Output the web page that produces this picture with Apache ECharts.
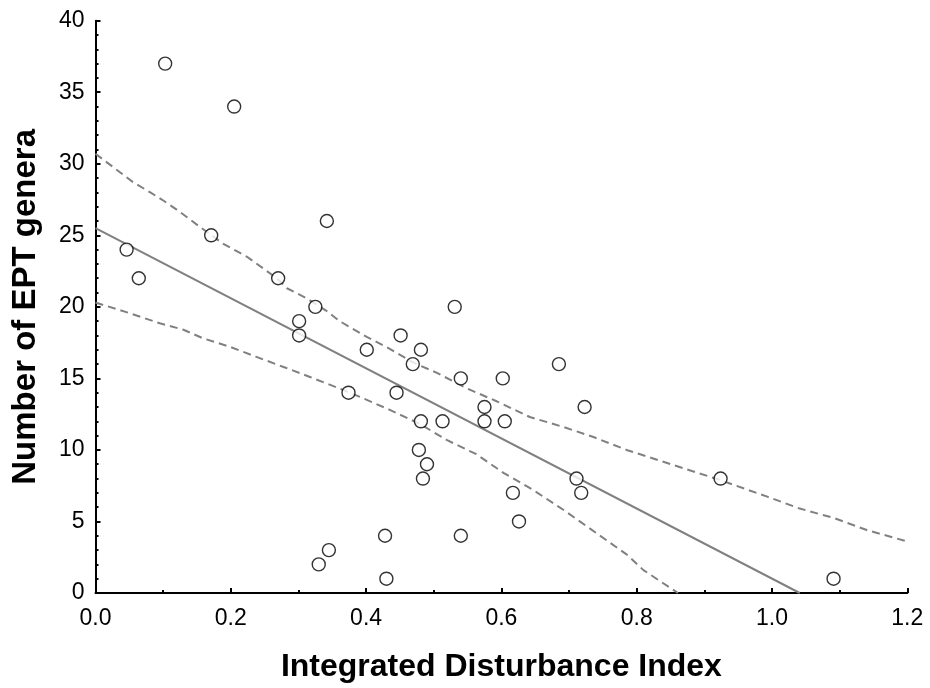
<!DOCTYPE html>
<html>
<head>
<meta charset="utf-8">
<script src="https://cdn.jsdelivr.net/npm/echarts@6/dist/echarts.min.js"></script>
<style>
  html, body { margin: 0; padding: 0; background: #fff; }
  #chart { width: 930px; height: 688px; }
</style>
</head>
<body>
<div id="chart"></div>
<script>
// observed sites: disturbance index vs EPT genera count
const idx = [0.103, 0.205, 0.046, 0.064, 0.171, 0.270, 0.342, 0.325, 0.301, 0.301,
             0.531, 0.451, 0.401, 0.481, 0.469, 0.540, 0.602, 0.685, 0.374, 0.445,
             0.575, 0.723, 0.481, 0.513, 0.575, 0.605, 0.478, 0.490, 0.484, 0.711,
             0.718, 0.617, 0.626, 0.428, 0.540, 0.345, 0.330, 0.430, 0.924, 1.091]
const ept = [37, 34, 24, 22, 25, 22, 26, 20, 19, 18,
             20, 18, 17, 17, 16, 15, 15, 16, 14, 14,
             13, 13, 12, 12, 12, 12, 10, 9, 8, 8,
             7, 7, 5, 4, 4, 3, 2, 1, 8, 1]

// fitted line, read at its two ends
const fitLine = [[0, 25.5], [1.041, 0]]

// 95% confidence band (dashed)
const upperBand = [[0, 30.7], [0.056, 28.7], [0.081, 28.0], [0.098, 27.5], [0.12, 26.8],
                   [0.154, 25.6], [0.189, 24.4], [0.224, 23.5], [0.268, 22.0], [0.283, 21.3],
                   [0.312, 20.6], [0.342, 19.7], [0.361, 19.0], [0.401, 17.9], [0.430, 17.2],
                   [0.470, 16.1], [0.504, 15.4], [0.549, 14.3], [0.593, 13.4], [0.642, 12.3],
                   [0.692, 11.6], [0.736, 10.9], [0.785, 10.0], [0.923, 7.9], [0.992, 6.75],
                   [1.041, 5.9], [1.091, 5.25], [1.14, 4.4], [1.2, 3.6]]
const lowerBand = [[0, 20.3], [0.051, 19.55], [0.095, 18.85], [0.13, 18.4], [0.159, 17.8],
                   [0.199, 17.2], [0.238, 16.5], [0.278, 15.8], [0.317, 15.1], [0.371, 14.1],
                   [0.401, 13.5], [0.435, 12.8], [0.48, 11.8], [0.519, 10.7], [0.563, 9.7],
                   [0.603, 8.4], [0.647, 7.2], [0.692, 5.8], [0.731, 4.5], [0.785, 2.7],
                   [0.81, 1.6], [0.861, 0]]

const xTicks = ['0.0', '0.2', '0.4', '0.6', '0.8', '1.0', '1.2']

const chart = echarts.init(document.getElementById('chart'))

const axisFont = { fontFamily: 'Liberation Sans, Arial, sans-serif', fontSize: 23, color: '#000' }
const dashed = { color: '#808080', width: 2, type: [8, 5] }

chart.setOption({
  animation: false,
  grid: { left: 95.5, right: 22.7, top: 20.7, bottom: 94.5 },
  xAxis: {
    type: 'value',
    min: 0, max: 1.2, interval: 0.2,
    name: 'Integrated Disturbance Index',
    nameLocation: 'middle',
    nameGap: 58,
    nameTextStyle: { fontFamily: 'Liberation Sans, Arial, sans-serif', fontSize: 32, fontWeight: 'bold', color: '#000' },
    axisLine: { lineStyle: { color: '#000', width: 2 } },
    axisTick: { inside: true, length: 5, lineStyle: { color: '#000', width: 2 } },
    minorTick: { show: true, splitNumber: 2, length: 3, lineStyle: { color: '#000', width: 2 } },
    splitLine: { show: false },
    axisLabel: Object.assign({ margin: 14, formatter: v => xTicks[Math.round(v / 0.2)] }, axisFont)
  },
  yAxis: {
    type: 'value',
    min: 0, max: 40, interval: 5,
    name: 'Number of EPT genera',
    nameLocation: 'middle',
    nameGap: 53,
    nameTextStyle: { fontFamily: 'Liberation Sans, Arial, sans-serif', fontSize: 33, fontWeight: 'bold', color: '#000' },
    axisLine: { show: true, lineStyle: { color: '#000', width: 2 } },
    axisTick: { show: true, inside: true, length: 5, lineStyle: { color: '#000', width: 2 } },
    minorTick: { show: true, splitNumber: 5, length: 3, lineStyle: { color: '#000', width: 2 } },
    splitLine: { show: false },
    axisLabel: Object.assign({ margin: 11 }, axisFont)
  },
  series: [
    {
      type: 'line', data: upperBand, showSymbol: false, silent: true,
      lineStyle: dashed, z: 2
    },
    {
      type: 'line', data: lowerBand, showSymbol: false, silent: true,
      lineStyle: dashed, z: 2
    },
    {
      type: 'line', data: fitLine, showSymbol: false, silent: true,
      lineStyle: { color: '#808080', width: 2 }, z: 2
    },
    {
      type: 'scatter',
      data: idx.map((x, i) => [x, ept[i]]),
      symbol: 'circle',
      symbolSize: 13,
      itemStyle: { color: '#fff', borderColor: '#000', borderWidth: 1.4 },
      z: 5
    }
  ]
})
</script>
</body>
</html>
